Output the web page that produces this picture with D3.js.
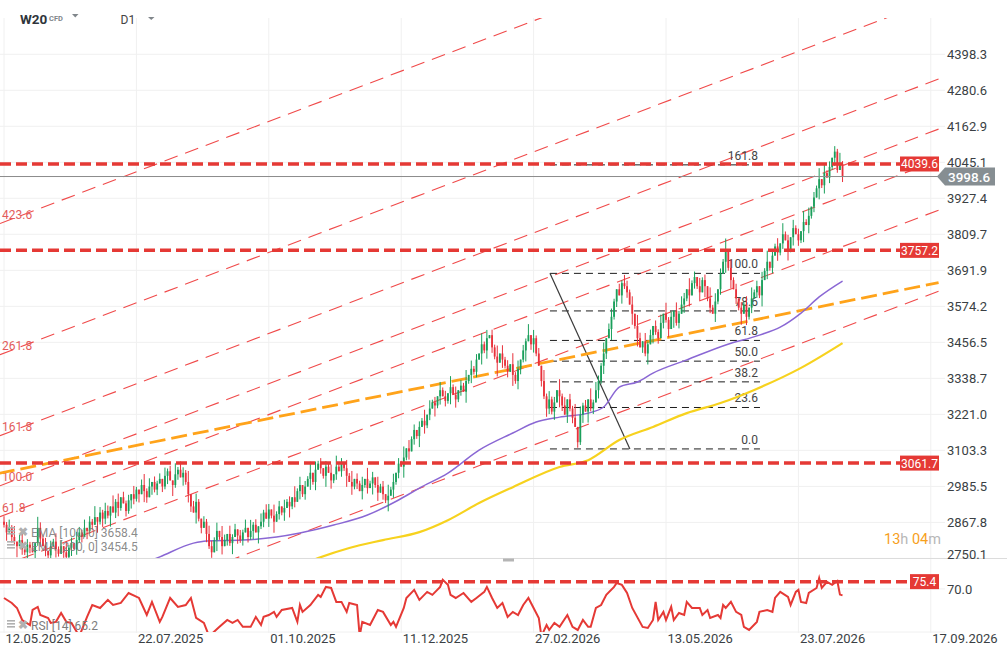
<!DOCTYPE html>
<html>
<head>
<meta charset="utf-8">
<script src="https://cdn.jsdelivr.net/npm/d3@7"></script>
<style>
html,body{margin:0;padding:0;background:#fff;}
svg{display:block;font-family:Roboto,"Noto Sans",sans-serif;}
</style>
</head>
<body>
<svg id="chart" width="1007" height="659"></svg>
<script>
// daily closes, one per session (open = previous close)
var firstOpen = 2870;
var closes = [
 2860,2835,2850,2820,2805,2790,2810,2780,2770,2795,
 2785,2770,2800,2850,2815,2790,2775,2760,2790,2805,
 2780,2765,2790,2770,2755,2785,2800,2780,2810,2835,
 2820,2850,2840,2870,2860,2885,2870,2900,2880,2905,
 2890,2920,2900,2935,2915,2950,2930,2905,2940,2960,
 2945,2975,2960,2990,2970,2950,2985,3000,2975,2995,
 3010,2985,3020,3035,3005,2990,3025,3040,3015,3030,
 3000,2960,2920,2900,2935,2880,2850,2870,2830,2790,
 2770,2810,2840,2820,2790,2810,2830,2800,2820,2845,
 2825,2810,2835,2850,2820,2840,2860,2835,2855,2870,
 2900,2880,2910,2890,2870,2895,2920,2900,2915,2935,
 2920,2950,2935,2970,2990,2960,2985,3010,3030,3000,
 3040,3060,3045,3020,3050,3030,3005,3025,3050,3035,
 3060,3045,3020,3000,2985,3010,2995,2970,2990,3010,
 2980,2995,3015,2990,2965,2985,2960,2940,2955,2975,
 3000,3030,3060,3050,3080,3110,3100,3140,3170,3150,
 3180,3200,3185,3220,3240,3260,3250,3280,3300,3280,
 3265,3290,3310,3285,3270,3300,3315,3295,3330,3350,
 3370,3360,3400,3420,3450,3430,3470,3480,3440,3410,
 3390,3420,3400,3380,3360,3385,3350,3330,3370,3400,
 3430,3460,3480,3450,3470,3420,3380,3330,3280,3240,
 3270,3230,3260,3300,3280,3250,3220,3270,3240,3210,
 3180,3130,3220,3250,3230,3270,3240,3260,3300,3330,
 3380,3420,3470,3500,3540,3590,3630,3610,3650,3640,
 3620,3580,3550,3510,3470,3440,3460,3420,3450,3480,
 3510,3490,3470,3520,3550,3530,3500,3540,3560,3520,
 3550,3580,3600,3630,3610,3650,3670,3640,3620,3660,
 3640,3600,3570,3550,3590,3630,3680,3720,3760,3700,
 3660,3630,3600,3570,3550,3580,3540,3570,3600,3620,
 3640,3610,3660,3690,3720,3700,3740,3770,3750,3780,
 3810,3790,3760,3800,3830,3810,3790,3820,3850,3840,
 3870,3900,3930,3960,3990,3970,4010,3995,4030,4060,
 4080,4020,4040,3998.6
];
// upper / lower shadow per session, in steps of 9 points
var wickUp = "2131402312 1204213021 3120412032 1302140213 2041302120 3102413021 2031204132 1402310213 " +
             "2130420312 0213041203 1320412031 2041302140 3120213041 2031402130 4120312041 3021403120 " +
             "2140312031 2041302140 3120413021 4031204130 2140312041 3120413021 5031204132 1402310213 " +
             "2130420312 0213041203 1320412031 2041302140 3120213041 2031402130 4120312041 3021403120 2141";
var wickDn = "1302140213 2041302120 3102413021 2031204132 1402310213 2130420312 0213041203 1320412031 " +
             "2041302140 3120213041 2031402130 4120312041 3021403120 2140312031 2041302140 3120413021 " +
             "4031204130 2140312041 3120413021 5031204132 1402310213 2130420312 0213041203 1320412031 " +
             "2041302140 3120213041 2031402130 4120312041 3021403120 2140312031 2041302140 3120413021 3102";
var wickStep = 9;

// moving averages, [bar, value]
var ema100 = [[55,2738],[60,2755],[73,2800],[78,2807],[92,2810],[105,2820],[114,2833],[127,2859],
  [140,2892],[152,2941],[160,2980],[171,3029],[183,3104],[196,3160],[205,3196],[214,3212],
  [225,3225],[231,3245],[237,3310],[244,3327],[250,3356],[263,3399],[278,3448],[291,3480],
  [299,3506],[307,3552],[314,3605],[323,3657]];
var ema200 = [[116,2735],[121,2751],[133,2784],[146,2810],[160,2836],[171,2875],[183,2931],
  [196,2983],[214,3049],[225,3071],[237,3137],[250,3180],[263,3225],[276,3258],[289,3301],
  [307,3373],[323,3454]];

// RSI(14), [bar, value]
var rsi = [[0,63.3],[3,59.6],[5,55.9],[7,47],[10,43.3],[11,54.4],[13,56.7],[14,50.7],[17,48.5],
  [18,44.8],[20,45.6],[22,52.2],[24,45.6],[26,44.8],[29,35],[32,49.3],[34,58.1],[37,55.9],
  [40,61.9],[42,58.1],[45,59.6],[48,67],[52,63.3],[55,50.7],[57,60.4],[60,45.6],[61,49.3],
  [64,63.3],[67,56.7],[70,58.1],[72,63.3],[74,48.5],[77,44.8],[79,35],[83,41.9],[86,47],
  [88,44.8],[90,47],[92,41.9],[95,41.9],[97,49.3],[99,43.3],[100,49.3],[102,50.7],[104,53],
  [105,49.3],[107,54.4],[111,55.9],[113,45.6],[114,58.1],[115,53],[118,58.1],[121,65.6],
  [122,64.1],[124,71.5],[126,70.7],[128,60.4],[130,60.4],[132,53],[133,59.6],[136,58.1],
  [137,35],[138,45.6],[141,43.3],[144,54.4],[146,53],[149,43.3],[150,45.6],[151,41.9],
  [154,55.9],[155,63.3],[158,69.3],[160,61.9],[163,67.8],[165,65.6],[168,71.5],[169,76.7],
  [171,73],[172,65.6],[174,63.3],[177,67],[180,60.4],[182,63.3],[185,67.8],[186,71.5],
  [188,63.3],[190,55.9],[192,59.6],[194,49.3],[196,53],[198,50.7],[200,58.1],[202,63.3],
  [204,55.9],[206,48.5],[207,35],[209,43.3],[210,39.6],[212,44.8],[214,41.9],[217,50.7],
  [219,41.9],[221,39.6],[223,47],[225,41.9],[226,41.9],[228,55.9],[230,58.1],[232,65.6],
  [235,71.5],[236,74.4],[238,73],[240,67],[242,55.9],[246,41.9],[248,41.1],[250,47],
  [251,60.4],[252,47],[254,53],[255,47],[257,56.7],[258,47],[260,52.2],[262,50.7],[263,60.4],
  [265,55.9],[268,55.9],[269,50.7],[271,54.4],[272,48.5],[275,50.7],[276,48.5],[277,58.1],
  [278,55.9],[280,60.4],[282,53],[284,50.7],[285,41.9],[287,39.6],[290,45.6],[291,53],
  [294,54.4],[296,53],[297,63.3],[299,67.8],[302,64.1],[303,58.1],[305,67.8],[306,69.3],
  [307,60.4],[309,59.6],[310,67],[313,70.7],[314,78.1],[315,70.7],[317,75.2],[319,73],
  [321,75.9],[322,65.8],[323,65.2]];

var priceTicks = [4398.3,4280.6,4162.9,4045.1,3927.4,3809.7,3691.9,3574.2,3456.5,3338.7,3221.0,3103.3,2985.5,2867.8,2750.1];
var rsiTicks = [70.0];
var dateTicks = ["12.05.2025","22.07.2025","01.10.2025","11.12.2025","27.02.2026","13.05.2026","23.07.2026","17.09.2026"];
var barsPerDateTick = 51;

var levels = [4039.6, 3757.2, 3061.7];
var rsiLevel = 75.4;
var lastPrice = 3998.6;

// fib channel
var chanLevels = [-100, 0, 61.8, 100, 161.8, 261.8, 423.6];
var chanShown = ["61.8","100.0","161.8","261.8","423.6"];
var chanBase = [[0, 2727.7], [323, 3769.4]];
var chanWidth = 264.9;

// orange trend line
var trend = [[-2, 3028], [360, 3652]];

// fib retracement
var fibLevels = [0, 23.6, 38.2, 50.0, 61.8, 78.6, 100.0, 161.8];
var fibLow = 3108, fibHigh = 3682;
var fibSpan = [210.3, 291.2];
var fibSwing = [[210.3, 3682], [241.1, 3108]];

var emaLegend = ["EMA [100, 0] 3658.4", "EMA [200, 0] 3454.5"];
var rsiLegend = "RSI [14] 65.2";

var svg = d3.select("#chart");
var W = 1007, H = 659;
var plotRight = 940, paneTop = 18, mainBottom = 558, rsiBottom = 632;

var x = d3.scaleLinear().domain([0, barsPerDateTick * 7]).range([4, 930.8]);
var y = d3.scaleLinear().domain([2751.4, 4516.9]).range([mainBottom, paneTop]);
var ry = d3.scaleLinear().domain([38.1, 92.9]).range([rsiBottom, mainBottom]);

var defs = svg.append("defs");
defs.append("clipPath").attr("id", "clipMain").append("rect")
  .attr("x", 0).attr("y", paneTop).attr("width", plotRight).attr("height", mainBottom - paneTop);
defs.append("clipPath").attr("id", "clipRsi").append("rect")
  .attr("x", 0).attr("y", mainBottom + 1).attr("width", plotRight).attr("height", rsiBottom - mainBottom - 1);

// grid
var grid = svg.append("g");
grid.selectAll(".hg").data(priceTicks).enter().append("line")
  .attr("x1", 0).attr("x2", 945).attr("y1", function(d){ return y(d); }).attr("y2", function(d){ return y(d); })
  .attr("stroke", "#f0f0f0").attr("stroke-width", 1);
grid.selectAll(".rg").data(rsiTicks.concat([38.1])).enter().append("line")
  .attr("x1", 0).attr("x2", 945).attr("y1", function(d){ return ry(d); }).attr("y2", function(d){ return ry(d); })
  .attr("stroke", "#f0f0f0").attr("stroke-width", 1);
grid.selectAll(".vg").data(dateTicks).enter().append("line")
  .attr("x1", function(d, i){ return x(i * barsPerDateTick); }).attr("x2", function(d, i){ return x(i * barsPerDateTick); })
  .attr("y1", paneTop).attr("y2", rsiBottom + 1)
  .attr("stroke", "#f0f0f0").attr("stroke-width", 1);

// pane separator
svg.append("line").attr("x1", 0).attr("x2", W).attr("y1", mainBottom + 0.5).attr("y2", mainBottom + 0.5)
  .attr("stroke", "#dcdcdc").attr("stroke-width", 1);
svg.append("rect").attr("x", 503).attr("y", mainBottom + 0.5).attr("width", 11).attr("height", 3).attr("fill", "#b5b5b5");

var plot = svg.append("g").attr("clip-path", "url(#clipMain)");

// fib channel lines
var slope = (chanBase[1][1] - chanBase[0][1]) / (chanBase[1][0] - chanBase[0][0]);
function chanPrice(i, lv){ return chanBase[0][1] + slope * (i - chanBase[0][0]) + lv / 100 * chanWidth; }
var iL = x.invert(0), iR = x.invert(plotRight);
plot.selectAll(".chan").data(chanLevels).enter().append("line")
  .attr("x1", x(iL)).attr("x2", x(iR))
  .attr("y1", function(d){ return y(chanPrice(iL, d)); })
  .attr("y2", function(d){ return y(chanPrice(iR, d)); })
  .attr("stroke", "#f04a4a").attr("stroke-width", 1.1).attr("stroke-dasharray", "14,8");
plot.selectAll(".chanLbl").data(chanShown).enter().append("text")
  .attr("x", 2).attr("y", function(d){ return y(chanPrice(x.invert(2), +d)) - 4; })
  .attr("font-size", 12).attr("fill", "#e35b5b").text(function(d){ return d; });

// fib retracement
var fibG = plot.append("g");
fibG.selectAll(".fib").data(fibLevels).enter().append("line")
  .attr("x1", x(fibSpan[0])).attr("x2", x(fibSpan[1]))
  .attr("y1", function(d){ return y(fibLow + d / 100 * (fibHigh - fibLow)); })
  .attr("y2", function(d){ return y(fibLow + d / 100 * (fibHigh - fibLow)); })
  .attr("stroke", "#1d1d1d").attr("stroke-width", 1).attr("stroke-dasharray", "7,5");
fibG.append("line")
  .attr("x1", x(fibSwing[0][0])).attr("y1", y(fibSwing[0][1]))
  .attr("x2", x(fibSwing[1][0])).attr("y2", y(fibSwing[1][1]))
  .attr("stroke", "#3a3a3a").attr("stroke-width", 1.2);
fibG.selectAll(".fibLbl").data(fibLevels).enter().append("text")
  .attr("x", x(fibSpan[1]) - 2).attr("text-anchor", "end")
  .attr("y", function(d){ return y(fibLow + d / 100 * (fibHigh - fibLow)) - 5; })
  .attr("font-size", 12).attr("fill", "#444").text(function(d){ return d.toFixed(1); });

// orange trend line
plot.append("line")
  .attr("x1", x(trend[0][0])).attr("y1", y(trend[0][1]))
  .attr("x2", x(trend[1][0])).attr("y2", y(trend[1][1]))
  .attr("stroke", "#ffa31a").attr("stroke-width", 2.8).attr("stroke-dasharray", "16,6");

// moving averages
var maLine = d3.line().x(function(d){ return x(d[0]); }).y(function(d){ return y(d[1]); }).curve(d3.curveMonotoneX);
plot.append("path").attr("d", maLine(ema200)).attr("fill", "none").attr("stroke", "#f7d21e").attr("stroke-width", 2.2);
plot.append("path").attr("d", maLine(ema100)).attr("fill", "none").attr("stroke", "#8a67d4").attr("stroke-width", 1.5);

// candles
var wu = wickUp.replace(/ /g, "").split("").map(Number);
var wd = wickDn.replace(/ /g, "").split("").map(Number);
var bars = closes.map(function(c, i){
  var o = i ? closes[i - 1] : firstOpen;
  return { i: i, o: o, c: c,
    h: Math.max(o, c) + (wu[i] || 0) * wickStep,
    l: Math.min(o, c) - (wd[i] || 0) * wickStep };
});
function barColor(d){ return d.c >= d.o ? "#1a9f5b" : "#e8313b"; }
plot.selectAll(".wick").data(bars).enter().append("line")
  .attr("x1", function(d){ return x(d.i); }).attr("x2", function(d){ return x(d.i); })
  .attr("y1", function(d){ return y(d.h); }).attr("y2", function(d){ return y(d.l); })
  .attr("stroke", barColor).attr("stroke-width", 1);
plot.selectAll(".bar").data(bars).enter().append("rect")
  .attr("x", function(d){ return x(d.i) - 0.9; }).attr("width", 1.8)
  .attr("y", function(d){ return y(Math.max(d.o, d.c)); })
  .attr("height", function(d){ return Math.max(1, Math.abs(y(d.o) - y(d.c))); })
  .attr("fill", barColor);

// last price line
plot.append("line").attr("x1", 0).attr("x2", plotRight).attr("y1", y(lastPrice)).attr("y2", y(lastPrice))
  .attr("stroke", "#8c8c8c").attr("stroke-width", 1);

// horizontal levels
svg.selectAll(".lvl").data(levels).enter().append("line")
  .attr("x1", 0).attr("x2", 900).attr("y1", function(d){ return y(d); }).attr("y2", function(d){ return y(d); })
  .attr("stroke", "#e53935").attr("stroke-width", 3.5).attr("stroke-dasharray", "11,5");
svg.selectAll(".lvlBox").data(levels).enter().append("rect")
  .attr("x", 900).attr("width", 39).attr("y", function(d){ return y(d) - 7.5; }).attr("height", 15)
  .attr("fill", "#e53935");
svg.selectAll(".lvlTxt").data(levels).enter().append("text")
  .attr("x", 919.5).attr("text-anchor", "middle").attr("y", function(d){ return y(d) + 4.5; })
  .attr("font-size", 12).attr("fill", "#fff").text(function(d){ return d.toFixed(1); });

// last price tag
var ly = y(lastPrice);
svg.append("path")
  .attr("d", "M937," + ly + "L945," + (ly - 9) + "H995V" + (ly + 9) + "H945Z")
  .attr("fill", "#868e92");
svg.append("text").attr("x", 948).attr("y", ly + 5).attr("font-size", 13.5).attr("font-weight", 500)
  .attr("fill", "#fff").text(lastPrice.toFixed(1));

// price axis
var yAxis = d3.axisRight(y).tickValues(priceTicks).tickSize(0).tickPadding(0)
  .tickFormat(function(d){ return d.toFixed(1); });
var yAxisG = svg.append("g").attr("transform", "translate(947,0)").call(yAxis);
yAxisG.select(".domain").remove();
yAxisG.selectAll("text").attr("font-size", 13).attr("fill", "#3a3f44").attr("font-family", "Roboto")
  .attr("transform", function(d){ return d < 2760 ? "translate(0,-4)" : null; });

// countdown
var cd = svg.append("text").attr("x", 884).attr("y", 544).attr("font-size", 14.5);
cd.append("tspan").attr("fill", "#f7a01c").text("13");
cd.append("tspan").attr("fill", "#b7b7b7").text("h ");
cd.append("tspan").attr("fill", "#f7a01c").text("04");
cd.append("tspan").attr("fill", "#b7b7b7").text("m");

// RSI pane
var rsiG = svg.append("g").attr("clip-path", "url(#clipRsi)");
var rsiLine = d3.line().x(function(d){ return x(d[0]); }).y(function(d){ return ry(d[1]); });
rsiG.append("path").attr("d", rsiLine(rsi)).attr("fill", "none").attr("stroke", "#e53935").attr("stroke-width", 2);
svg.append("line").attr("x1", 0).attr("x2", 910).attr("y1", ry(rsiLevel)).attr("y2", ry(rsiLevel))
  .attr("stroke", "#e53935").attr("stroke-width", 3.5).attr("stroke-dasharray", "11,5");
svg.append("rect").attr("x", 910).attr("width", 29).attr("y", ry(rsiLevel) - 7.5).attr("height", 15).attr("fill", "#e53935");
svg.append("text").attr("x", 924.5).attr("text-anchor", "middle").attr("y", ry(rsiLevel) + 4.5)
  .attr("font-size", 12).attr("fill", "#fff").text(rsiLevel.toFixed(1));
var rAxis = d3.axisRight(ry).tickValues(rsiTicks).tickSize(0).tickPadding(0).tickFormat(function(d){ return d.toFixed(1); });
var rAxisG = svg.append("g").attr("transform", "translate(947,0)").call(rAxis);
rAxisG.select(".domain").remove();
rAxisG.selectAll("text").attr("font-size", 13).attr("fill", "#3a3f44").attr("font-family", "Roboto");

// date axis
var xAxis = d3.axisBottom(x).tickValues(dateTicks.map(function(d, i){ return i * barsPerDateTick; }))
  .tickSize(0).tickPadding(0).tickFormat(function(d, i){ return dateTicks[i]; });
var xAxisG = svg.append("g").attr("transform", "translate(0,635)").call(xAxis);
xAxisG.select(".domain").remove();
xAxisG.selectAll("text").attr("text-anchor", "start").attr("dx", 1).attr("dy", "0.6em")
  .attr("font-size", 13).attr("fill", "#3a3f44").attr("font-family", "Roboto");

// legends
function legendIcons(g, yy){
  [0, 3, 6].forEach(function(k){
    g.append("rect").attr("x", 7).attr("y", yy - 5 + k).attr("width", 8).attr("height", 1.6).attr("fill", "#b0b0b0");
  });
  g.append("text").attr("x", 18).attr("y", yy + 4).attr("font-size", 12).attr("font-weight", "bold")
    .attr("fill", "#b0b0b0").text("\u2716");
}
var leg = svg.append("g");
emaLegend.forEach(function(t, k){
  var yy = 532 + k * 14;
  legendIcons(leg, yy);
  leg.append("text").attr("x", 31).attr("y", yy + 4.5).attr("font-size", 12).attr("fill", "#7d7d7d")
    .attr("fill-opacity", 0.9).text(t);
});
legendIcons(leg, 625);
leg.append("text").attr("x", 31).attr("y", 629.5).attr("font-size", 12).attr("fill", "#7d7d7d").text(rsiLegend);

// header
var hd = svg.append("g");
hd.append("text").attr("x", 20).attr("y", 23.5).attr("font-size", 13.5).attr("font-weight", "bold").attr("fill", "#2f353b").text("W20");
hd.append("text").attr("x", 49).attr("y", 21).attr("font-size", 7.5).attr("font-weight", "bold").attr("fill", "#80868b").text("CFD");
hd.append("path").attr("d", "M72,14L78.5,14L75.25,17.5Z").attr("fill", "#80868b");
hd.append("text").attr("x", 120.5).attr("y", 24).attr("font-size", 12).attr("fill", "#444").text("D1");
hd.append("path").attr("d", "M148,17L154.5,17L151.25,20Z").attr("fill", "#80868b");
</script>
</body>
</html>
